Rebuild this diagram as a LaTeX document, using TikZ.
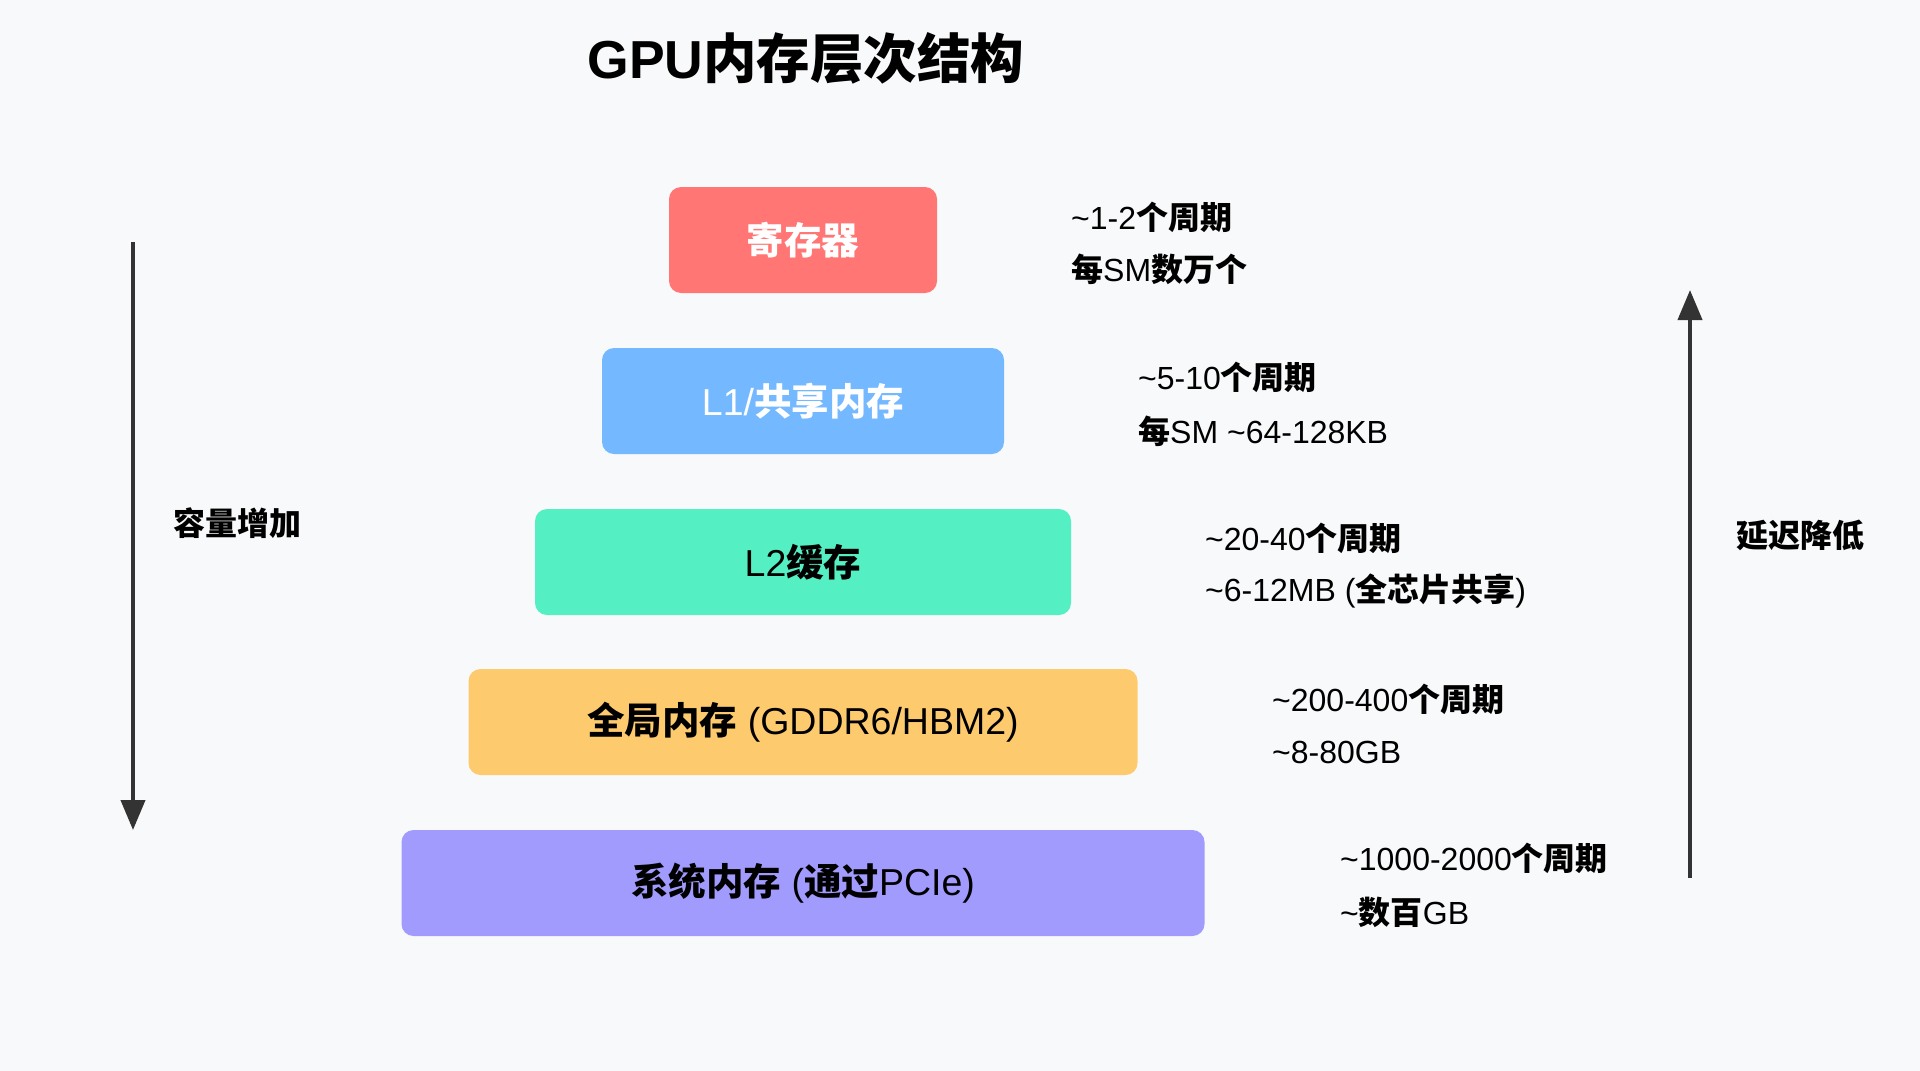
\documentclass[tikz,border=0pt]{standalone}
\usepackage{fontspec}
\setmainfont{Liberation Sans}
\newfontfamily\cjk{Noto Sans CJK SC}
\usetikzlibrary{arrows.meta}
\definecolor{pagebg}{RGB}{248,249,250}
\definecolor{regred}{RGB}{255,118,117}
\definecolor{lonebl}{RGB}{116,185,255}
\definecolor{ltwogr}{RGB}{85,239,196}
\definecolor{globye}{RGB}{253,203,110}
\definecolor{sysvio}{RGB}{162,155,254}
\newcommand{\zh}[1]{{\cjk\bfseries #1}}
\newcommand{\tld}{\textasciitilde}
\begin{document}
\begin{tikzpicture}[x=1pt,y=-1pt,
  tier/.style={rounded corners=12pt,minimum height=106pt,inner sep=0pt,text=black,font=\fontsize{37.5}{42}\selectfont},
  note/.style={anchor=west,inner sep=0pt,text=black,font=\fontsize{32}{36}\selectfont},
  axis/.style={line width=4pt,draw=black!80,-{Triangle[length=30pt,width=24pt]}},
  axislabel/.style={anchor=west,inner sep=0pt,text=black,font=\fontsize{32}{36}\selectfont\cjk\bfseries}]
\fill[pagebg] (0,0) rectangle (1920,1071);
\useasboundingbox (0,0) rectangle (1920,1071);
\node[font=\fontsize{53.5}{60}\selectfont\bfseries] (title) at (806,58) {GPU\zh{内存层次结构}};
\node[tier,fill=regred,minimum width=268pt,text=white] (reg) at (803,240) {\zh{寄存器}};
\node[tier,fill=lonebl,minimum width=402pt,text=white] (lone) at (803,401) {L1/\zh{共享内存}};
\node[tier,fill=ltwogr,minimum width=536pt] (ltwo) at (803,562) {L2\zh{缓存}};
\node[tier,fill=globye,minimum width=669pt] (glob) at (803,722) {\zh{全局内存} (GDDR6/HBM2)};
\node[tier,fill=sysvio,minimum width=803pt] (sys) at (803,883) {\zh{系统内存} (\zh{通过}PCIe)};
\node[note] (regLat) at (1071,217) {\tld1-2\zh{个周期}};
\node[note] (regCap) at (1071,269) {\zh{每}SM\zh{数万个}};
\node[note] (loneLat) at (1138,377) {\tld5-10\zh{个周期}};
\node[note] (loneCap) at (1138,431) {\zh{每}SM \tld64-128KB};
\node[note] (ltwoLat) at (1205,538) {\tld20-40\zh{个周期}};
\node[note] (ltwoCap) at (1205,591) {\tld6-12MB (\zh{全芯片共享})};
\node[note] (globLat) at (1272,699) {\tld200-400\zh{个周期}};
\node[note] (globCap) at (1272,752) {\tld8-80GB};
\node[note] (sysLat) at (1340,858) {\tld1000-2000\zh{个周期}};
\node[note] (sysCap) at (1340,912) {\tld\zh{数百}GB};
\coordinate (capTop) at (133,242);
\coordinate (capEnd) at (133,830);
\draw[axis] (capTop) -- (capEnd);
\node[axislabel] (capLabel) at (173,523) {容量增加};
\coordinate (latBot) at (1690,878);
\coordinate (latTop) at (1690,290);
\draw[axis] (latBot) -- (latTop);
\node[axislabel] (latLabel) at (1736,535) {延迟降低};
\end{tikzpicture}
\end{document}
